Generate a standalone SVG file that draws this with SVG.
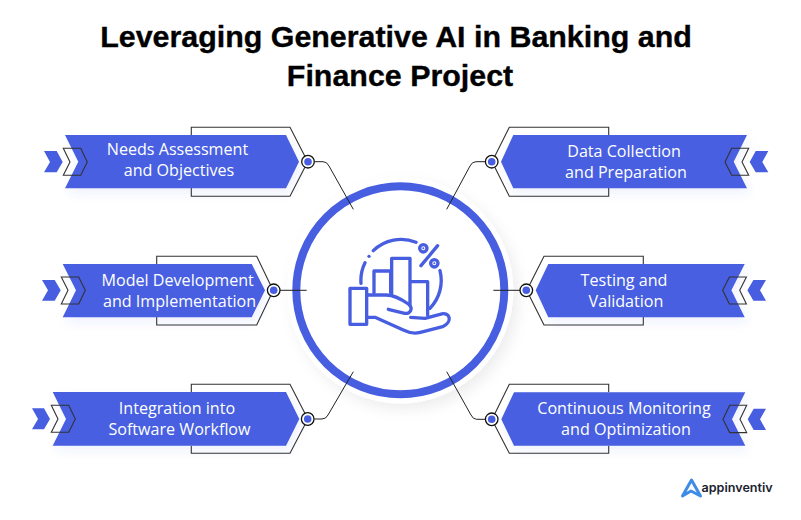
<svg xmlns="http://www.w3.org/2000/svg" width="801" height="520" viewBox="0 0 801 520">
<defs>
<style>
.b{fill:#475ee0}
.o{fill:none;stroke:#333;stroke-width:1.1}
.c{fill:none;stroke:#222;stroke-width:1}
.d{fill:#fff;stroke:#111;stroke-width:1.3}
.e{fill:#475ee0}
.t{font-family:"Open Sans",sans-serif;font-size:16.1px;font-weight:500;fill:#fff;text-anchor:middle}
.h{font-family:"Liberation Sans",sans-serif;font-weight:700;font-size:30.4px;fill:#000;text-anchor:middle;stroke:#000;stroke-width:.35}
.i{fill:none;stroke:#475ee0;stroke-width:10;stroke-linecap:round;stroke-linejoin:round}
</style>
<filter id="s" x="-20%" y="-20%" width="150%" height="150%"><feDropShadow dx="5" dy="6" stdDeviation="7" flood-color="#000" flood-opacity=".07"/></filter>
<filter id="bs" x="-10%" y="-20%" width="120%" height="160%"><feDropShadow dx="3" dy="5" stdDeviation="5" flood-color="#475ee0" flood-opacity=".08"/></filter>
</defs>
<rect width="801" height="520" fill="#fff"/>
<g id="title">
<text class="h" x="396" y="46.5">Leveraging Generative AI in Banking and</text>
<text class="h" x="400" y="85.5">Finance Project</text>
</g>
<g id="center">
<circle cx="400.3" cy="290.3" r="113" fill="#fff" filter="url(#s)"/>
<circle cx="400.3" cy="290.3" r="104" fill="#fff" stroke="#475ee0" stroke-width="8"/>
<g transform="translate(290 180) scale(.3333)">
<rect class="i" x="180" y="325" width="50" height="108"/>
<path class="i" d="M252 338V273H302V338M305 345V235H360V375M367 305H413V405"/>
<path class="i" d="M232 345H288C312 345 338 360 355 372C372 386 360 402 344 400L295 388"/>
<path class="i" d="M232 412H255L340 450C368 464 385 460 400 455L458 440C490 425 480 393 450 403L405 415L362 412"/>
<path class="i" d="M250 212A120 120 0 0 1 378 187M225 248A120 120 0 0 0 213 310M450 272A120 120 0 0 1 420 385"/>
<circle cx="237" cy="229" r="5" fill="#475ee0"/>
<path class="i" d="M393 257L443 197"/>
<circle class="i" cx="400" cy="205" r="11"/>
<circle class="i" cx="433" cy="250" r="11"/>
<circle cx="400" cy="205" r="3" fill="#475ee0"/>
<circle cx="433" cy="250" r="3" fill="#475ee0"/>
</g>
</g>
<g id="connectors">
<path class="c" d="M314.7 161.7H323Q327 161.7 329 166L353.3 209.3"/>
<path class="c" d="M280 290.3H306.7"/>
<path class="c" d="M314.3 419H322Q326 419 328 415L353.3 371.7"/>
<path class="c" d="M485 161.7H476Q472 161.7 470 166L446.7 209.3"/>
<path class="c" d="M520 290.3H493.3"/>
<path class="c" d="M485 419.3H476.7Q473 419.3 471 415L446.7 371.7"/>
</g>
<g id="node-needs">
<path class="o" d="M191.3 135V127.3H290L305 156.5M191.3 188V196.3H290L305 167"/>
<polygon class="b" filter="url(#bs)" points="65,135 286,135 299,161.7 286,188.3 65,188.3 78.3,161.7"/>
<polygon class="e" points="44,151 56.7,151 62.7,162 56.7,172.3 44,172.3 50,162"/>
<polygon class="o" points="63.3,148.3 80.7,148.3 87.3,162 80.7,175.3 63.3,175.3 70,162"/>
<circle class="d" cx="308" cy="161.7" r="6.3"/><circle class="e" cx="308" cy="161.7" r="3.8"/>
<text class="t" x="177.5" y="155">Needs Assessment</text>
<text class="t" x="179" y="176">and Objectives</text>
</g>
<g id="node-model">
<path class="o" d="M156.7 264V256.3H256.7L270.5 285M156.7 317V325H256.7L270.5 296"/>
<polygon class="b" filter="url(#bs)" points="62.7,264 251.7,264 265,290.3 251.7,317.3 62.7,317.3 76,290.3"/>
<polygon class="e" points="42,280 54.7,280 60.7,290.3 54.7,300.7 42,300.7 48,290.3"/>
<polygon class="o" points="61.3,277 78.7,277 85.3,290.3 78.7,304 61.3,304 68,290.3"/>
<circle class="d" cx="273.7" cy="290.3" r="6.3"/><circle class="e" cx="273.7" cy="290.3" r="3.8"/>
<text class="t" x="177.7" y="286">Model Development</text>
<text class="t" x="179.5" y="306.7">and Implementation</text>
</g>
<g id="node-integration">
<path class="o" d="M191.3 392V384.3H290L305 413.5M191.3 445.7V453.3H290L305 424.5"/>
<polygon class="b" filter="url(#bs)" points="52.7,392 286,392 299.3,419 286,445.7 52.7,445.7 66,419"/>
<polygon class="e" points="32,408.3 44,408.3 50,419 44,429.3 32,429.3 38,419"/>
<polygon class="o" points="51.3,405.3 68.7,405.3 75.3,419 68.7,432.3 51.3,432.3 58,419"/>
<circle class="d" cx="307.7" cy="419" r="6.3"/><circle class="e" cx="307.7" cy="419" r="3.8"/>
<text class="t" x="177" y="414">Integration into</text>
<text class="t" x="179.5" y="435">Software Workflow</text>
</g>
<g id="node-data">
<path class="o" d="M608.7 135V127.3H509.3L494.7 156.5M608.7 188V196.3H509.3L494.7 167"/>
<polygon class="b" filter="url(#bs)" points="747,135 513.3,135 501,161.7 513.3,188.3 747,188.3 733.7,161.7"/>
<polygon class="e" points="768.3,151 755.7,151 749.7,162 755.7,172.3 768.3,172.3 762.3,162"/>
<polygon class="o" points="748.7,148.3 731.7,148.3 725,162 731.7,175.3 748.7,175.3 742,162"/>
<circle class="d" cx="491.7" cy="161.7" r="6.3"/><circle class="e" cx="491.7" cy="161.7" r="3.8"/>
<text class="t" x="624" y="156.7">Data Collection</text>
<text class="t" x="626" y="177.7">and Preparation</text>
</g>
<g id="node-testing">
<path class="o" d="M643.3 264V256.3H544L529.5 285M643.3 317V325H544L529.5 296"/>
<polygon class="b" filter="url(#bs)" points="744.7,264 548.3,264 535.7,290.3 548.3,317.3 744.7,317.3 731.4,290.3"/>
<polygon class="e" points="766,280 753.4,280 747.4,290.3 753.4,300.7 766,300.7 760,290.3"/>
<polygon class="o" points="746.4,277 729.4,277 722.7,290.3 729.4,304 746.4,304 739.7,290.3"/>
<circle class="d" cx="526.3" cy="290.3" r="6.3"/><circle class="e" cx="526.3" cy="290.3" r="3.8"/>
<text class="t" x="624" y="285.5">Testing and</text>
<text class="t" x="626" y="306.5">Validation</text>
</g>
<g id="node-monitoring">
<path class="o" d="M608.7 392V384.3H509.3L494.7 414M608.7 445.7V453.3H509.3L494.7 425"/>
<polygon class="b" filter="url(#bs)" points="745.3,392.3 514,392.3 501.3,419.3 514,445.7 745.3,445.7 732,419.3"/>
<polygon class="e" points="766,408.7 753.7,408.7 747.7,419.3 753.7,430 766,430 760,419.3"/>
<polygon class="o" points="746.7,405.3 729.7,405.3 723,419.3 729.7,432.6 746.7,432.6 740,419.3"/>
<circle class="d" cx="491.7" cy="419.3" r="6.3"/><circle class="e" cx="491.7" cy="419.3" r="3.8"/>
<text class="t" x="624" y="414">Continuous Monitoring</text>
<text class="t" x="626" y="435">and Optimization</text>
</g>
<g id="logo">
<path d="M682.5 496L691.5 480L700.5 496L691 491Z" fill="none" stroke="#3f8be8" stroke-width="3" stroke-linejoin="round"/>
<text x="701.5" y="492" font-family="Inter,sans-serif" font-weight="600" font-size="12.6" fill="#1b2230">appinventiv</text>
</g>
</svg>
